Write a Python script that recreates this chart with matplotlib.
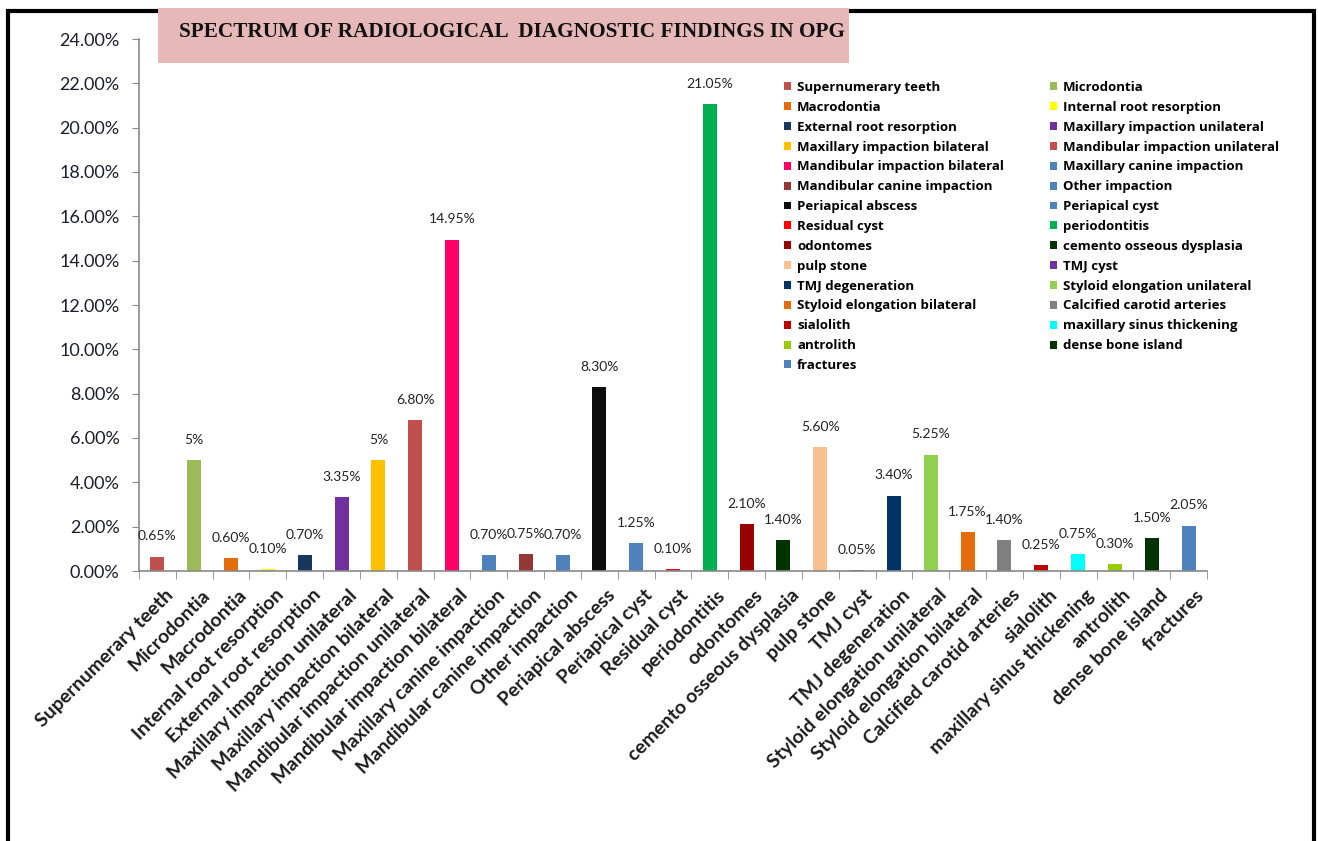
import matplotlib
matplotlib.use("Agg")
import matplotlib.pyplot as plt
import matplotlib.transforms as mtransforms
from matplotlib.patches import Patch, Rectangle
from matplotlib.ticker import FuncFormatter
import numpy as np

plt.rcParams['font.family'] = ['Lato', 'DejaVu Sans']

categories = ["Supernumerary teeth", "Microdontia", "Macrodontia", "Internal root resorption",
              "External root resorption", "Maxillary impaction unilateral", "Maxillary impaction bilateral",
              "Mandibular impaction unilateral", "Mandibular impaction bilateral", "Maxillary canine impaction",
              "Mandibular canine impaction", "Other impaction", "Periapical abscess", "Periapical cyst",
              "Residual cyst", "periodontitis", "odontomes", "cemento osseous dysplasia", "pulp stone",
              "TMJ cyst", "TMJ degeneration", "Styloid elongation unilateral", "Styloid elongation bilateral",
              "Calcified carotid arteries", "sialolith", "maxillary sinus thickening", "antrolith",
              "dense bone island", "fractures"]
values = [0.65, 5.0, 0.60, 0.10, 0.70, 3.35, 5.0, 6.80, 14.95, 0.70, 0.75, 0.70, 8.30, 1.25,
          0.10, 21.05, 2.10, 1.40, 5.60, 0.05, 3.40, 5.25, 1.75, 1.40, 0.25, 0.75, 0.30, 1.50, 2.05]
bar_labels = ["0.65%", "5%", "0.60%", "0.10%", "0.70%", "3.35%", "5%", "6.80%", "14.95%", "0.70%",
              "0.75%", "0.70%", "8.30%", "1.25%", "0.10%", "21.05%", "2.10%", "1.40%", "5.60%", "0.05%",
              "3.40%", "5.25%", "1.75%", "1.40%", "0.25%", "0.75%", "0.30%", "1.50%", "2.05%"]
colors = ["#C0504D", "#9BBB59", "#E46C0A", "#FFFF00", "#17375E", "#7030A0", "#FFC000", "#C0504D",
          "#FF0066", "#4F81BD", "#953735", "#4F81BD", "#0D0D0D", "#4F81BD", "#FF0000", "#00B050",
          "#990000", "#003300", "#FAC090", "#7030A0", "#003366", "#92D050", "#E46C0A", "#808080",
          "#C00000", "#00FFFF", "#99CC00", "#003300", "#4F81BD"]
y_ticks = np.arange(0, 25, 2)
title = "SPECTRUM OF RADIOLOGICAL  DIAGNOSTIC FINDINGS IN OPG"

W, H = 1318, 841
fig = plt.figure(figsize=(W / 100, H / 100), dpi=100)
ax = fig.add_axes([139 / W, 1 - 571 / H, (1207 - 139) / W, (571 - 39) / H])
ax.patch.set_alpha(0)

x = np.arange(len(categories))
ax.bar(x, values, width=0.38, color=colors, zorder=2)

for i, v in enumerate(values):
    ax.annotate(bar_labels[i], (x[i], v), xytext=(0, 14.5), textcoords='offset points',
                ha='center', va='center', fontsize=10, color='#222222')

ax.set_xlim(-0.5, len(categories) - 0.5)
ax.set_ylim(0, 24)
ax.set_yticks(y_ticks)
ax.yaxis.set_major_formatter(FuncFormatter(lambda v, p: f"{v:.2f}%"))
ax.tick_params(axis='y', length=5, color='#898989', labelsize=13, labelcolor='#1c1c2c', pad=9)

ax.set_xticks(x)
ax.set_xticklabels(categories, rotation=45, ha='right', rotation_mode='anchor',
                   fontsize=14, fontweight='bold', color='#1c1c1c')
ax.set_xticks(np.arange(-0.5, len(categories), 1), minor=True)
ax.tick_params(axis='x', which='major', length=0, pad=11)
ax.tick_params(axis='x', which='minor', length=6, color='#898989')
shift = mtransforms.ScaledTranslation(7 / 100, 0, fig.dpi_scale_trans)
for lbl in ax.get_xticklabels():
    lbl.set_transform(lbl.get_transform() + shift)

for s in ['top', 'right']:
    ax.spines[s].set_visible(False)
for s in ['left', 'bottom']:
    ax.spines[s].set_color('#898989')
    ax.spines[s].set_linewidth(1.2)

# legends, two columns filled row by row
handles = [Patch(facecolor=c, edgecolor='none') for c in colors]
leg_kw = dict(loc='upper left', bbox_transform=fig.transFigure, frameon=False, borderpad=0,
              borderaxespad=0, handlelength=0.55, handleheight=0.55, handletextpad=0.45,
              labelspacing=0.52, prop={'family': 'Open Sans', 'size': 9.5, 'weight': 'bold'})
leg1 = ax.legend(handles[0::2], categories[0::2], bbox_to_anchor=(784 / W, 1 - 81 / H), **leg_kw)
ax.add_artist(leg1)
ax.legend(handles[1::2], categories[1::2], bbox_to_anchor=(1050 / W, 1 - 81 / H), **leg_kw)

# outer frame, then title box on top of it
fig.add_artist(Rectangle((8 / W, -0.05), (1314 - 8) / W, 1 - 11 / H + 0.05, transform=fig.transFigure,
                         fill=False, edgecolor='black', linewidth=3, clip_on=False, zorder=1))
fig.add_artist(Rectangle((158 / W, 1 - 63 / H), (849 - 158) / W, 55 / H,
                         transform=fig.transFigure, facecolor='#E6B9B8', edgecolor='none', zorder=2))
fig.text(179 / W, 1 - 32 / H, title, family='Liberation Serif', weight='bold', fontsize=15.3,
         ha='left', va='center', color='#111111', zorder=3)

fig.savefig("out.png", dpi=100)
